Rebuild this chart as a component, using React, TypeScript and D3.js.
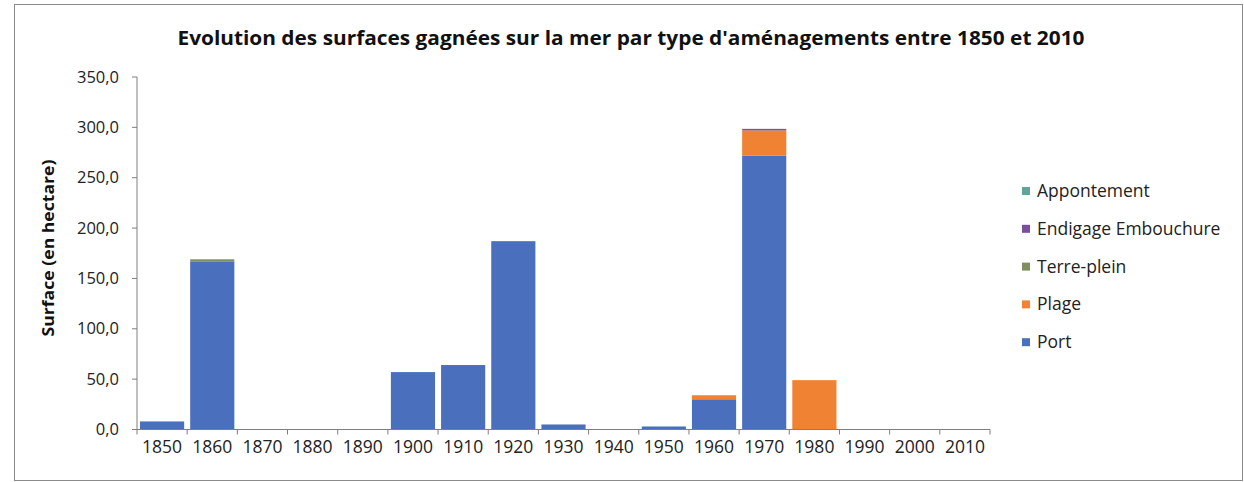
import React from "react";
import * as d3 from "d3";

const years = ["1850","1860","1870","1880","1890","1900","1910","1920","1930","1940","1950","1960","1970","1980","1990","2000","2010"];
const port =        [8, 167, 0, 0, 0, 57, 64, 187, 5, 0, 3, 30, 272, 0, 0, 0, 0];
const plage =       [0, 0, 0, 0, 0, 0, 0, 0, 0, 0, 0, 4, 25, 49, 0, 0, 0];
const terrePlein =  [0, 2, 0, 0, 0, 0, 0, 0, 0, 0, 0, 0, 0, 0, 0, 0, 0];
const endigage =    [0, 0, 0, 0, 0, 0, 0, 0, 0, 0, 0, 0, 1.5, 0, 0, 0, 0];
const appontement = [0, 0, 0, 0, 0, 0, 0, 0, 0, 0, 0, 0, 0, 0, 0, 0, 0];
const yTicks = [0, 50, 100, 150, 200, 250, 300, 350];

const seriesKeys = ["Port", "Plage", "Terre-plein", "Endigage Embouchure", "Appontement"];
const seriesColors: Record<string, string> = {
  "Port": "#4a6fbd",
  "Plage": "#ef8233",
  "Terre-plein": "#7f9060",
  "Endigage Embouchure": "#7a4f9c",
  "Appontement": "#62a39a",
};
const legendOrder = ["Appontement", "Endigage Embouchure", "Terre-plein", "Plage", "Port"];

export default function App() {
  const W = 1244, H = 482;
  const left = 137, right = 990, top = 77, bottom = 429.5;
  const x = d3.scaleBand<string>().domain(years).range([left, right]).paddingInner(0.12).paddingOuter(0.06);
  const xb = d3.scaleBand<string>().domain(years).range([left, right]);
  const y = d3.scaleLinear().domain([0, 350]).range([bottom, top]);

  const table = years.map((yr, i) => ({
    year: yr,
    "Port": port[i],
    "Plage": plage[i],
    "Terre-plein": terrePlein[i],
    "Endigage Embouchure": endigage[i],
    "Appontement": appontement[i],
  }));
  const stack = d3.stack<any>().keys(seriesKeys)(table);
  const font = "Open Sans, 'Noto Sans', sans-serif";

  return (
    <svg width={W} height={H} style={{ position: "absolute", left: 0, top: 0, background: "#fff" }}>
      <rect x={14.5} y={4.5} width={1228} height={476} fill="#fff" stroke="#8a8a8a" strokeWidth={1} />
      <text x={631} y={45} textAnchor="middle" fontFamily={font} fontWeight={700} fontSize={19} fill="#111"
        textLength={907} lengthAdjust="spacingAndGlyphs">
        Evolution des surfaces gagnées sur la mer par type d'aménagements entre 1850 et 2010
      </text>
      {stack.map((s) => (
        <g key={s.key} fill={seriesColors[s.key]}>
          {s.map((d, i) => (
            d[1] - d[0] > 0 ? (
              <rect key={i} x={x(years[i])} width={x.bandwidth()} y={y(d[1])} height={y(d[0]) - y(d[1])} />
            ) : null
          ))}
        </g>
      ))}
      {/* y axis */}
      <line x1={left} x2={left} y1={top} y2={bottom} stroke="#7f7f7f" strokeWidth={1} />
      {yTicks.map((t) => (
        <g key={t}>
          <line x1={left - 5} x2={left} y1={y(t)} y2={y(t)} stroke="#7f7f7f" />
          <text x={119} y={y(t) + 5.5} textAnchor="end" fontFamily={font} fontSize={16.5} fill="#222">
            {d3.format(".1f")(t).replace(".", ",")}
          </text>
        </g>
      ))}
      {/* x axis */}
      <line x1={left} x2={right} y1={bottom} y2={bottom} stroke="#7f7f7f" strokeWidth={1} />
      {years.map((yr) => (
        <line key={"t" + yr} x1={xb(yr)!} x2={xb(yr)!} y1={bottom} y2={bottom + 5} stroke="#7f7f7f" />
      ))}
      <line x1={right} x2={right} y1={bottom} y2={bottom + 5} stroke="#7f7f7f" />
      {years.map((yr) => (
        <text key={"l" + yr} x={xb(yr)! + xb.bandwidth() / 2} y={453} textAnchor="middle" fontFamily={font} fontSize={17.5} fill="#222">
          {yr}
        </text>
      ))}
      <text transform="translate(54,248) rotate(-90)" textAnchor="middle" fontFamily={font} fontWeight={700} fontSize={16.5} fill="#111"
        textLength={177} lengthAdjust="spacingAndGlyphs">
        Surface (en hectare)
      </text>
      {legendOrder.map((k, i) => (
        <g key={k} transform={`translate(1022,${191 + i * 37.8})`}>
          <rect x={0} y={-4} width={8} height={8} fill={seriesColors[k]} />
          <text x={15} y={6} fontFamily={font} fontSize={17.5} fill="#222">{k}</text>
        </g>
      ))}
    </svg>
  );
}
